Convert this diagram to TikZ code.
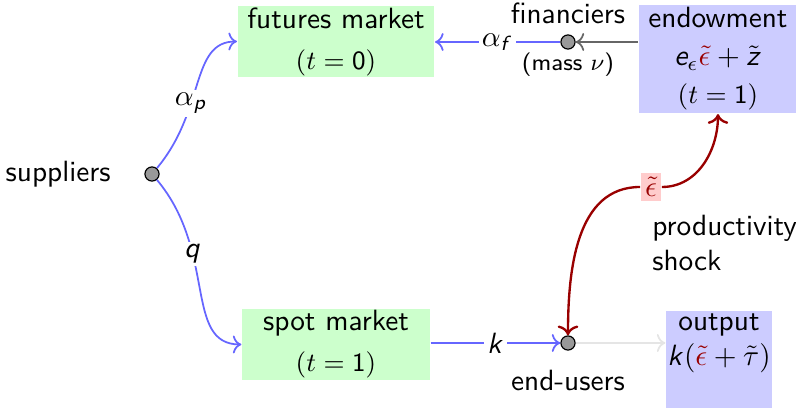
\documentclass[tikz,border=0pt]{standalone}
\usepackage{amsmath,amssymb}
\usepackage{xcolor}
\usepackage{tikz}
\usetikzlibrary{arrows.meta,positioning}
\renewcommand{\familydefault}{\sfdefault}
\DeclareMathAlphabet{\mathsfit}{OT1}{cmss}{m}{sl}
\newcommand{\sv}[1]{\mathsfit{#1}}
\newcommand{\rshock}{{\color{red!60!black}\tilde{\epsilon}}}

\begin{document}
\begin{tikzpicture}[>=To,
  dot/.style={circle,draw=black,fill=black!40,inner sep=0pt,minimum size=0.17cm},
  market/.style={fill=green!20,minimum width=2.256cm,minimum height=0.828cm,inner ysep=0.5pt,align=center},
  state/.style={fill=blue!20,align=center},
  flow/.style={->,semithick,blue!60},
  shock/.style={thick,red!60!black},
  lbl/.style={fill=white,inner sep=1pt,text=black}]
  \useasboundingbox (0,0) rectangle (9.552,-4.896);
  % markets and states
  \node[market] (fut) at (4.032,-0.498) {futures market\\[2pt]{\small\((t=\mathsf{0})\)}};
  \node[market] (spot) at (4.032,-4.134) {spot market\\[2pt]{\small\((t=\mathsf{1})\)}};
  \node[state,minimum width=1.872cm,minimum height=1.272cm,inner ysep=1pt] (endow) at (8.616,-0.708)
    {endowment\\[1pt]\(\sv{e}_\epsilon\rshock+\tilde{\sv{z}}\)\\[1pt]{\small\((t=\mathsf{1})\)}};
  \node[state,anchor=north,minimum width=1.272cm,minimum height=1.22cm,
    label={[anchor=north,align=center,inner sep=1pt]north:output\\\(\sv{k}(\rshock+\tilde{\tau})\)}]
    (out) at (8.628,-3.72) {};
  % agents
  \node[dot,label={[label distance=8pt]left:suppliers}] (sup) at (1.824,-2.088) {};
  \node[dot,label=above:financiers,
    label={[inner sep=1pt,font=\footnotesize]below:(mass \(\nu\))}] (fin) at (6.816,-0.504) {};
  \node[dot,label={[label distance=3pt]below:end-users}] (eu) at (6.816,-4.116) {};
  \node[fill=red!20,inner sep=1.5pt] (eps) at (7.812,-2.244) {\(\rshock\)};
  \node[align=left,anchor=west] (shk) at (7.704,-2.916) {productivity\\shock};
  % flows
  \draw[flow] (sup) to[out=50,in=180,out looseness=1.3,in looseness=0.8]
    node[lbl,pos=0.37] {\(\alpha_{\sv{p}}\)} (fut.west);
  \draw[flow] (sup) to[out=-50,in=180,out looseness=1.3,in looseness=0.8]
    node[lbl,pos=0.33] {\(\sv{q}\)} (spot.west);
  \draw[flow] (fin) -- node[lbl] {\(\alpha_{\sv{f}}\)} (fut.east |- fin);
  \draw[->,semithick,black!60] (endow.west |- fin) -- (fin);
  \draw[flow] (spot.east |- eu) -- node[lbl] {\(\sv{k}\)} (eu);
  \draw[->,semithick,black!10] (eu) -- (out.west |- eu);
  \draw[shock,<-] (endow.south) to[out=-90,in=0] (eps);
  \draw[shock,->] (eps) to[out=180,in=90] (eu);
\end{tikzpicture}
\end{document}
